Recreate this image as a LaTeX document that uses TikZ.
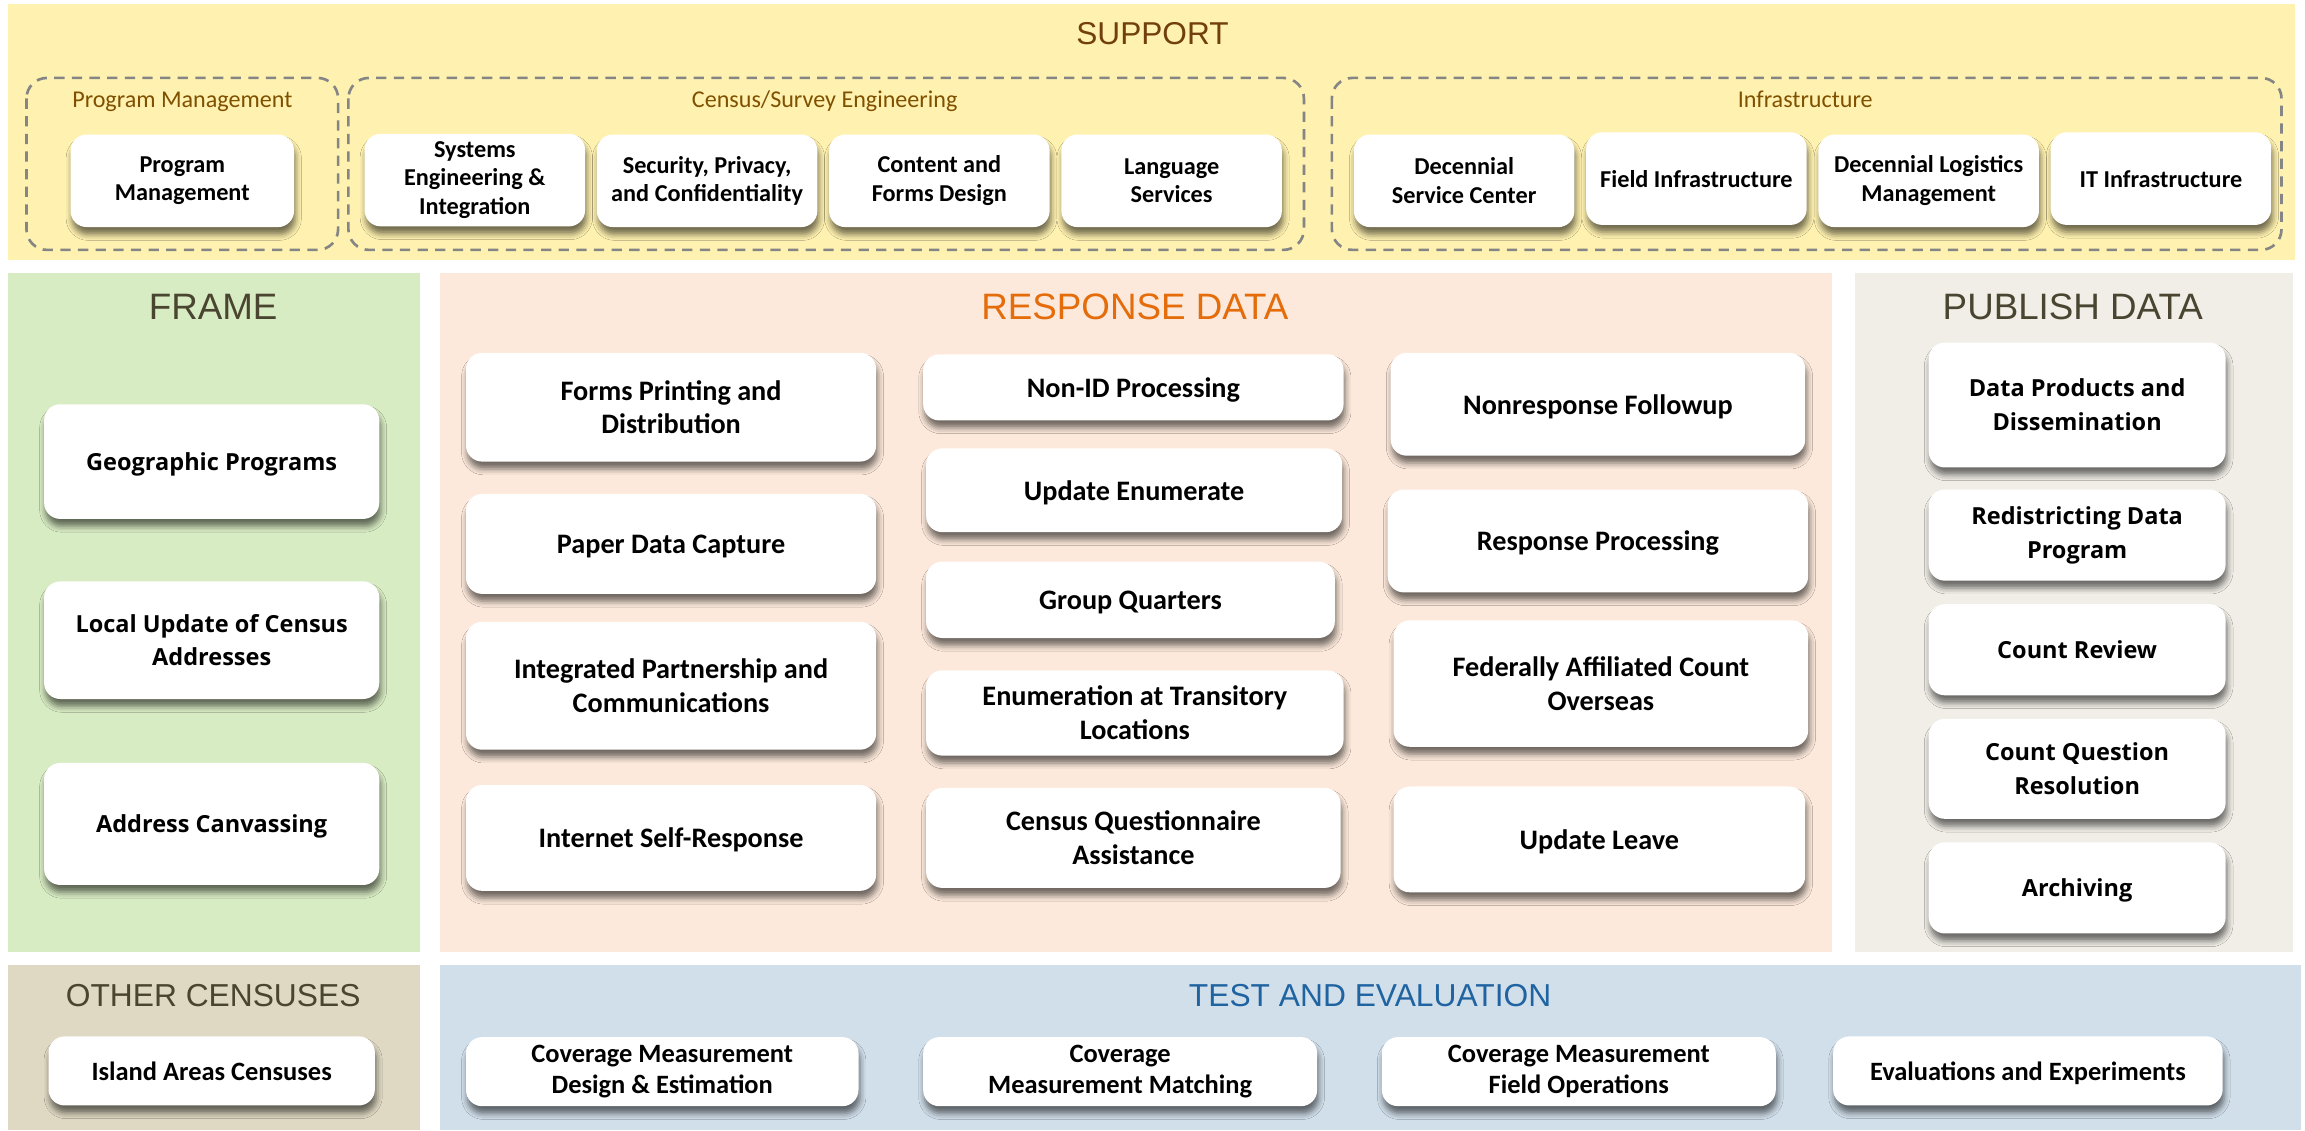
\documentclass[tikz,border=0pt]{standalone}
\usepackage{fontspec}
\setmainfont{Carlito}
\newfontfamily\ttlfam{Liberation Sans}
\newfontfamily\osfam{Open Sans}
\usetikzlibrary{shadows.blur}
\definecolor{supY}{HTML}{FFF2B0}
\definecolor{frmG}{HTML}{D8ECC3}
\definecolor{rspP}{HTML}{FCE9DB}
\definecolor{pubB}{HTML}{F1EEE7}
\definecolor{othT}{HTML}{DFD9C3}
\definecolor{tstB}{HTML}{D1DFEB}
\definecolor{dashgray}{HTML}{858585}
\definecolor{supTxt}{HTML}{713F0C}
\definecolor{subTxt}{HTML}{7F5000}
\definecolor{oliveTxt}{HTML}{4A4530}
\definecolor{orangeTxt}{HTML}{E46C0A}
\definecolor{blueTxt}{HTML}{1F64A0}
\newcommand\supfnt{\fontsize{16.5}{19.5}\selectfont\bfseries}
\newcommand\rspfnt{\fontsize{19.2}{23}\selectfont\bfseries}
\newcommand\osfnt{\osfam\fontsize{16}{23}\selectfont\bfseries}
\newcommand\tstfnt{\fontsize{18}{21}\selectfont\bfseries}
\tikzset{
  bx/.style={rounded corners=11pt, fill=white, align=center, inner sep=2pt, text=black,
    blur shadow={shadow xshift=1pt, shadow yshift=-5pt, shadow blur radius=4pt, shadow opacity=55}},
  sl/.style={text depth=0pt},
  sbx/.style={bx, font=\supfnt, minimum width=150pt, minimum height=63pt},
  rbx/.style={bx, font=\rspfnt},
  obx/.style={bx, font=\osfnt},
  tbx/.style={bx, font=\tstfnt, minimum height=47pt},
  grp/.style={draw=dashgray, line width=1.8pt, dash pattern=on 7pt off 5pt, rounded corners=14pt},
  bigttl/.style={anchor=base, font=\ttlfam\fontsize{25}{29}\selectfont},
  midttl/.style={anchor=base, font=\ttlfam\fontsize{21.6}{25}\selectfont},
  subttl/.style={anchor=base, font=\fontsize{16.4}{19}\selectfont, text=subTxt},
}
\begin{document}
\begin{tikzpicture}[x=1pt, y=-1pt]
\useasboundingbox (0,0) rectangle (1568,769);
\fill[white] (0,0) rectangle (1568,769);
% panels
\fill[supY] (5.5,2.7) rectangle (1561,177);
\fill[frmG] (5.5,185.7) rectangle (285.7,647.5);
\fill[rspP] (299.3,185.7) rectangle (1246,647.5);
\fill[pubB] (1262,185.7) rectangle (1560,647.5);
\fill[othT] (5.5,656.5) rectangle (285.7,769);
\fill[tstB] (299.3,656.5) rectangle (1565,769);

% SUPPORT
\node[bigttl, text=supTxt, font=\ttlfam\fontsize{21.5}{25}\selectfont] (tsup) at (784,30) {SUPPORT};
\draw[grp] (18,53) rectangle (230,170);
\draw[grp] (237,53) rectangle (887,170);
\draw[grp] (906,53) rectangle (1552,170);
\node[subttl] (gpm) at (124,73) {Program Management};
\node[subttl] (gcse) at (561,73) {Census/Survey Engineering};
\node[subttl] (ginf) at (1228,73) {Infrastructure};

\node[sbx, minimum width=152pt] (pm) at (124,123) {Program\\Management};
\node[sbx] (sei) at (323,122.5) {Systems\\Engineering \&\\Integration};
\node[sbx] (spc) at (481,123) {Security, Privacy,\\and Confidentiality};
\node[sbx] (cfd) at (639,123) {Content and\\Forms Design};
\node[sbx] (ls) at (797,123) {Language\\Services};
\node[sbx] (dsc) at (996,123) {Decennial\\Service Center};
\node[sbx, sl] (fi) at (1154,121.5) {Field Infrastructure};
\node[sbx] (dlm) at (1312,123) {Decennial Logistics\\Management};
\node[sbx, sl] (it) at (1470,121.5) {IT Infrastructure};

% FRAME
\node[bigttl, text=oliveTxt] (tfrm) at (145,217) {FRAME};
\node[obx, sl, minimum width=228pt, minimum height=78pt] (geo) at (144,314) {Geographic Programs};
\node[obx, minimum width=228pt, minimum height=80pt] (luca) at (144,435.5) {Local Update of Census\\Addresses};
\node[obx, sl, minimum width=228pt, minimum height=83pt] (ac) at (144,560.5) {Address Canvassing};

% RESPONSE DATA
\node[bigttl, text=orangeTxt] (trsp) at (772,217) {RESPONSE DATA};
\node[rbx, minimum width=279pt, minimum height=74pt] (fpd) at (456.5,277) {Forms Printing and\\Distribution};
\node[rbx, sl, minimum width=279pt, minimum height=68pt] (pdc) at (456.5,370) {Paper Data Capture};
\node[rbx, minimum width=279pt, minimum height=87pt] (ipc) at (456.5,466.5) {Integrated Partnership and\\Communications};
\node[rbx, sl, minimum width=279pt, minimum height=72pt] (isr) at (456.5,570) {Internet Self-Response};

\node[rbx, sl, minimum width=286pt, minimum height=45pt] (nid) at (771,263.5) {Non-ID Processing};
\node[rbx, sl, minimum width=283pt, minimum height=57pt] (ue) at (771.5,333.5) {Update Enumerate};
\node[rbx, sl, minimum width=278pt, minimum height=52pt] (gq) at (769,408) {Group Quarters};
\node[rbx, minimum width=284pt, minimum height=58pt] (etl) at (772,485) {Enumeration at Transitory\\Locations};
\node[rbx, minimum width=282pt, minimum height=68pt] (cqa) at (771,570) {Census Questionnaire\\Assistance};

\node[rbx, sl, minimum width=282pt, minimum height=70pt] (nrfu) at (1087,275) {Nonresponse Followup};
\node[rbx, sl, minimum width=286pt, minimum height=70pt] (rp) at (1087,368) {Response Processing};
\node[rbx, minimum width=282pt, minimum height=86pt] (faco) at (1089,465) {Federally Affiliated Count\\Overseas};
\node[rbx, sl, minimum width=280pt, minimum height=72pt] (ul) at (1088,571) {Update Leave};

% PUBLISH DATA
\node[bigttl, text=oliveTxt] (tpub) at (1410,217) {PUBLISH DATA};
\node[obx, minimum width=202pt, minimum height=85pt] (dpd) at (1413,275.5) {Data Products and\\Dissemination};
\node[obx, minimum width=202pt, minimum height=62pt] (rdp) at (1413,364) {Redistricting Data\\Program};
\node[obx, sl, minimum width=202pt, minimum height=62pt] (cr) at (1413,442) {Count Review};
\node[obx, minimum width=202pt, minimum height=68pt] (cqr) at (1413,523) {Count Question\\Resolution};
\node[obx, sl, minimum width=202pt, minimum height=62pt] (arch) at (1413,604) {Archiving};

% OTHER CENSUSES
\node[midttl, text=oliveTxt] (toth) at (145,685) {OTHER CENSUSES};
\node[tbx, sl, minimum width=222pt] (iac) at (144,728.5) {Island Areas Censuses};

% TEST AND EVALUATION
\node[midttl, text=blueTxt] (ttst) at (932,685) {TEST AND EVALUATION};
\node[tbx, minimum width=267pt] (cmde) at (450.5,729) {Coverage Measurement\\Design \& Estimation};
\node[tbx, minimum width=268pt] (cmm) at (762,729) {Coverage\\Measurement Matching};
\node[tbx, minimum width=268pt] (cmfo) at (1074,729) {Coverage Measurement\\Field Operations};
\node[tbx, sl, minimum width=265pt] (ee) at (1379.5,728.5) {Evaluations and Experiments};
\end{tikzpicture}
\end{document}
